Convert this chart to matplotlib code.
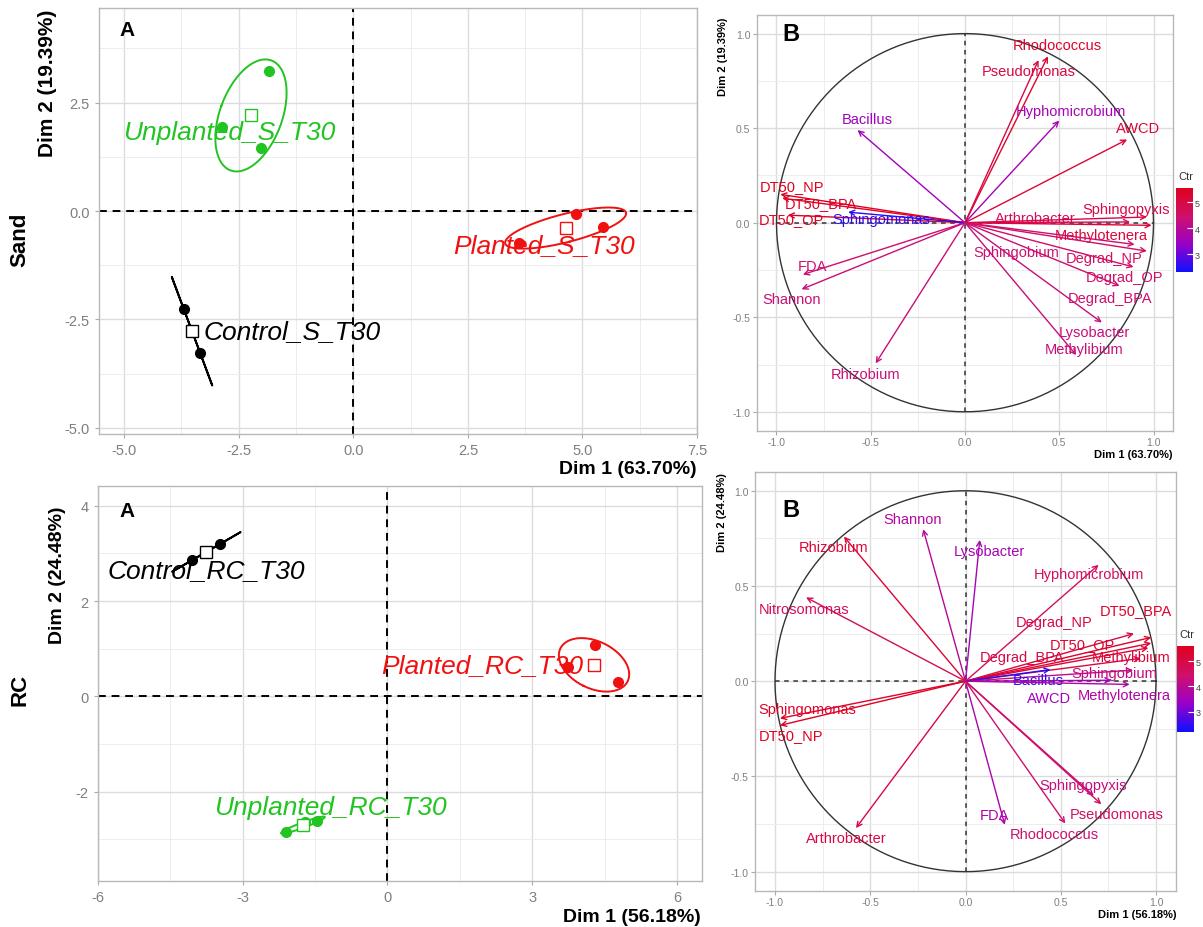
import numpy as np
import matplotlib.pyplot as plt
from matplotlib.colors import LinearSegmentedColormap, Normalize
from matplotlib.cm import ScalarMappable
from matplotlib.ticker import FormatStrFormatter, MultipleLocator

plt.rcParams['font.family'] = ['Liberation Sans', 'DejaVu Sans']

# individuals (PCA scores), Sand
sand_groups = ['Unplanted_S_T30', 'Planted_S_T30', 'Control_S_T30']
sand_x = [[-1.83, -2.86, -2.01], [4.85, 5.44, 3.61], [-3.70, -3.34]]
sand_y = [[3.22, 1.94, 1.45], [-0.07, -0.37, -0.74], [-2.26, -3.28]]
sand_lab_x = [-2.71, 4.17, -1.33]
sand_lab_y = [1.82, -0.78, -2.77]

# individuals, RC
rc_groups = ['Control_RC_T30', 'Planted_RC_T30', 'Unplanted_RC_T30']
rc_x = [[-4.04, -3.46], [4.31, 3.75, 4.78], [-2.09, -1.71, -1.45]]
rc_y = [[2.86, 3.20], [1.08, 0.61, 0.29], [-2.85, -2.64, -2.62]]
rc_lab_x = [-3.75, 1.97, -1.18]
rc_lab_y = [2.65, 0.65, -2.32]

# variables, Sand
sand_vars = ['Rhodococcus', 'Pseudomonas', 'Hyphomicrobium', 'AWCD', 'Bacillus',
             'DT50_NP', 'DT50_BPA', 'DT50_OP', 'Sphingomonas', 'Arthrobacter',
             'Sphingopyxis', 'Methylotenera', 'Sphingobium', 'Degrad_NP', 'Degrad_OP',
             'Degrad_BPA', 'Lysobacter', 'Methylibium', 'FDA', 'Shannon', 'Rhizobium']
sand_d1 = [0.44, 0.39, 0.50, 0.86, -0.57, -0.98, -0.97, -0.94, -0.62, 0.876,
           0.965, 0.99, 0.90, 0.965, 0.894, 0.82, 0.726, 0.59, -0.86, -0.867, -0.474]
sand_d2 = [0.88, 0.86, 0.54, 0.44, 0.49, 0.15, 0.13, 0.04, 0.056, 0.004,
           0.03, -0.014, -0.115, -0.15, -0.234, -0.334, -0.528, -0.70, -0.274, -0.352, -0.744]
sand_ctr = [5.3, 5.0, 3.6, 5.1, 3.5, 5.5, 5.4, 5.4, 2.5, 4.7,
            4.9, 5.1, 4.4, 4.6, 4.5, 4.4, 4.3, 4.3, 4.4, 4.3, 4.3]
sand_lx = [0.49, 0.34, 0.56, 0.92, -0.52, -0.916, -0.766, -0.92, -0.442, 0.372,
           0.857, 0.721, 0.27, 0.74, 0.846, 0.77, 0.685, 0.632, -0.81, -0.92, -0.527]
sand_ly = [0.94, 0.80, 0.59, 0.50, 0.55, 0.194, 0.106, 0.017, 0.02, 0.026,
           0.074, -0.063, -0.155, -0.186, -0.287, -0.396, -0.577, -0.67, -0.23, -0.406, -0.80]

# variables, RC
rc_vars = ['Shannon', 'Rhizobium', 'Lysobacter', 'Hyphomicrobium', 'Nitrosomonas',
           'DT50_BPA', 'Degrad_NP', 'DT50_OP', 'Methylibium', 'Degrad_BPA',
           'Sphingobium', 'Bacillus', 'AWCD', 'Methylotenera', 'Sphingomonas',
           'DT50_NP', 'Arthrobacter', 'FDA', 'Rhodococcus', 'Sphingopyxis', 'Pseudomonas']
rc_d1 = [-0.222, -0.638, 0.075, 0.699, -0.837, 0.975, 0.884, 0.975, 0.96, 0.92,
         0.88, 0.446, 0.766, 0.862, -0.974, -0.974, -0.575, 0.206, 0.524, 0.674, 0.713]
rc_d2 = [0.798, 0.759, 0.742, 0.611, 0.44, 0.23, 0.25, 0.20, 0.175, 0.12,
         0.058, 0.061, 0.005, -0.017, -0.195, -0.232, -0.771, -0.754, -0.747, -0.602, -0.646]
rc_ctr = [3.9, 5.2, 3.6, 4.6, 4.7, 5.4, 5.0, 5.3, 5.2, 5.0,
          4.2, 2.4, 3.5, 3.8, 5.4, 5.5, 5.0, 3.7, 4.4, 4.2, 4.6]
rc_lx = [-0.28, -0.694, 0.127, 0.647, -0.846, 0.893, 0.463, 0.613, 0.867, 0.297,
         0.78, 0.38, 0.438, 0.835, -0.83, -0.918, -0.628, 0.154, 0.468, 0.617, 0.792]
rc_ly = [0.85, 0.704, 0.686, 0.562, 0.38, 0.372, 0.311, 0.196, 0.128, 0.128,
         0.044, 0.005, -0.087, -0.07, -0.148, -0.284, -0.825, -0.703, -0.803, -0.546, -0.698]

group_colors = {'Unplanted': '#22c422', 'Planted': '#f01010', 'Control': 'black'}
cmap = LinearSegmentedColormap.from_list('ctr', ['#1010ff', '#9a00c8', '#d0106a', '#e0001c'])
W, H = 1203, 928


def fx(px):
    return px / W


def fy(py):
    return 1 - py / H


def style_axes(ax, major, minor, fmt, lsize, pad):
    ax.xaxis.set_major_locator(MultipleLocator(major[0]))
    ax.yaxis.set_major_locator(MultipleLocator(major[1]))
    ax.xaxis.set_minor_locator(MultipleLocator(minor[0]))
    ax.yaxis.set_minor_locator(MultipleLocator(minor[1]))
    ax.xaxis.set_major_formatter(FormatStrFormatter(fmt[0]))
    ax.yaxis.set_major_formatter(FormatStrFormatter(fmt[1]))
    ax.grid(which='major', color='#dcdcdc', lw=1.0)
    ax.grid(which='minor', color='#ededed', lw=0.7)
    ax.set_axisbelow(True)
    ax.tick_params(which='major', labelsize=lsize, labelcolor='#7f7f7f', color='#aaaaaa',
                   length=3, pad=pad)
    ax.tick_params(which='minor', length=0)
    for s in ax.spines.values():
        s.set_color('#b8b8b8')
        s.set_linewidth(1.0)


def conf_ellipse(ax, xs, ys, color):
    # 95% confidence ellipse around the group mean
    xs, ys = np.array(xs), np.array(ys)
    cov = np.cov(xs, ys) / len(xs)
    w, v = np.linalg.eigh(cov)
    w = np.clip(w, 0, None)
    t = np.linspace(0, 2 * np.pi, 200)
    circ = np.vstack([np.cos(t), np.sin(t)])
    pts = v @ np.diag(np.sqrt(w)) @ circ * np.sqrt(5.991)
    ax.plot(xs.mean() + pts[0], ys.mean() + pts[1], color=color, lw=1.4)


def ind_panel(ax, groups, xs_list, ys_list, lab_x, lab_y, xlim, ylim, major, fmt):
    style_axes(ax, major, (major[0] / 2, major[1] / 2), fmt, 10.5, 3.5)
    ax.axhline(0, color='black', ls='--', lw=1.4, dashes=(4, 3))
    ax.axvline(0, color='black', ls='--', lw=1.4, dashes=(4, 3))
    for g, xs, ys, lx, ly in zip(groups, xs_list, ys_list, lab_x, lab_y):
        c = group_colors[g.split('_')[0]]
        conf_ellipse(ax, xs, ys, c)
        ax.plot(xs, ys, 'o', color=c, ms=7)
        ax.plot(np.mean(xs), np.mean(ys), 's', mfc='white', mec=c, ms=8, mew=1.0)
        ax.text(lx, ly, g, color=c, fontsize=19, style='italic', ha='center', va='center')
    ax.set_xlim(xlim)
    ax.set_ylim(ylim)


def var_panel(ax, names, d1, d2, ctr, lx, ly, norm):
    style_axes(ax, (0.5, 0.5), (0.25, 0.25), ('%.1f', '%.1f'), 7.5, 1.5)
    t = np.linspace(0, 2 * np.pi, 300)
    ax.plot(np.cos(t), np.sin(t), color='#333333', lw=1.0)
    ax.plot([-1, 1], [0, 0], color='#333333', ls='--', lw=1.1, dashes=(3, 3))
    ax.plot([0, 0], [-1, 1], color='#333333', ls='--', lw=1.1, dashes=(3, 3))
    for n, a, b, c, x, y in zip(names, d1, d2, ctr, lx, ly):
        col = cmap(norm(c))
        ax.annotate('', xy=(a, b), xytext=(0, 0),
                    arrowprops=dict(arrowstyle='->', color=col, lw=1.0,
                                    mutation_scale=9, shrinkA=0, shrinkB=0))
        ax.text(x, y, n, color=col, fontsize=10.5, ha='center', va='center')
    ax.set_xlim(-1.105, 1.105)
    ax.set_ylim(-1.1, 1.1)


fig = plt.figure(figsize=(W / 100, H / 100), dpi=100)

# Sand - individuals
ax1 = fig.add_axes([fx(99), fy(435), fx(598), 426 / H])
ind_panel(ax1, sand_groups, sand_x, sand_y, sand_lab_x, sand_lab_y,
          (-5.55, 7.5), (-5.14, 4.68), (2.5, 2.5), ('%.1f', '%.1f'))
ax1.text(0.047, 0.95, 'A', transform=ax1.transAxes, fontsize=15, fontweight='bold', va='center', ha='center')

# RC - individuals
ax3 = fig.add_axes([fx(97.7), fy(881.7), fx(604), 395 / H])
ind_panel(ax3, rc_groups, rc_x, rc_y, rc_lab_x, rc_lab_y,
          (-6.0, 6.51), (-3.87, 4.42), (3, 2), ('%.0f', '%.0f'))
ax3.text(0.049, 0.936, 'A', transform=ax3.transAxes, fontsize=15, fontweight='bold', va='center', ha='center')

# Sand - variables
norm_s = Normalize(2.31, 5.54)
ax2 = fig.add_axes([fx(756.7), fy(431.7), fx(416.6), 416 / H])
var_panel(ax2, sand_vars, sand_d1, sand_d2, sand_ctr, sand_lx, sand_ly, norm_s)
ax2.text(0.082, 0.955, 'B', transform=ax2.transAxes, fontsize=17, fontweight='bold', va='center', ha='center')

# RC - variables
norm_r = Normalize(2.2, 5.6)
ax4 = fig.add_axes([fx(755), fy(891.7), fx(421), 419 / H])
var_panel(ax4, rc_vars, rc_d1, rc_d2, rc_ctr, rc_lx, rc_ly, norm_r)
ax4.text(0.086, 0.91, 'B', transform=ax4.transAxes, fontsize=17, fontweight='bold', va='center', ha='center')

# colour bars
for (x0, y_top, y_bot, norm) in [(1176, 189, 273, norm_s), (1177, 647, 733, norm_r)]:
    cax = fig.add_axes([fx(x0), fy(y_bot), fx(17), (y_bot - y_top) / H])
    cb = fig.colorbar(ScalarMappable(norm=norm, cmap=cmap), cax=cax)
    cb.outline.set_visible(False)
    cb.set_ticks([3, 4, 5])
    cax.tick_params(labelsize=6.5, labelcolor='#444444', color='white', direction='in',
                    length=4, pad=1.5)
    fig.text(fx(x0 + 2), fy(y_top - 12), 'Ctr', fontsize=8, color='#333333', va='center')

# axis titles
fig.text(fx(697), fy(470), 'Dim 1 (63.70%)', fontsize=14, fontweight='bold', ha='right', va='center')
fig.text(fx(701), fy(918), 'Dim 1 (56.18%)', fontsize=14, fontweight='bold', ha='right', va='center')
fig.text(fx(48), fy(10), 'Dim 2 (19.39%)', fontsize=15, fontweight='bold', rotation=90, ha='center', va='top')
fig.text(fx(57), fy(575), 'Dim 2 (24.48%)', fontsize=14, fontweight='bold', rotation=90, ha='center', va='center')
fig.text(fx(1173), fy(455), 'Dim 1 (63.70%)', fontsize=8, fontweight='bold', ha='right', va='center')
fig.text(fx(1176), fy(915), 'Dim 1 (56.18%)', fontsize=8, fontweight='bold', ha='right', va='center')
fig.text(fx(723), fy(18), 'Dim 2 (19.39%)', fontsize=8, fontweight='bold', rotation=90, ha='center', va='top')
fig.text(fx(722), fy(473), 'Dim 2 (24.48%)', fontsize=8, fontweight='bold', rotation=90, ha='center', va='top')

# row labels
fig.text(fx(20), fy(240), 'Sand', fontsize=16, fontweight='bold', rotation=90, ha='center', va='center')
fig.text(fx(20), fy(690), 'RC', fontsize=16, fontweight='bold', rotation=90, ha='center', va='center')

fig.savefig('out.png', dpi=100)
